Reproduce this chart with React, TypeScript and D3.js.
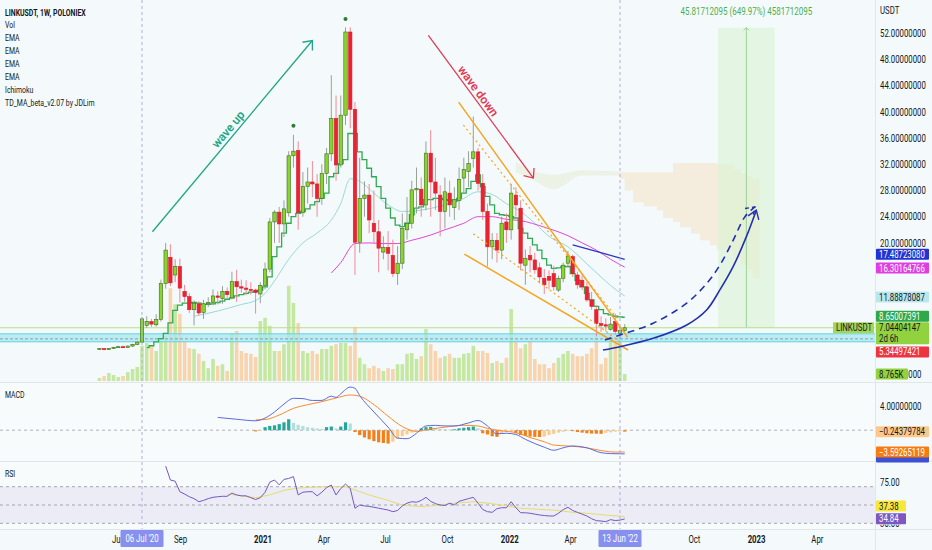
import React from 'react';
import * as d3 from 'd3';

// weekly LINKUSDT candles, first week = 4 May 2020
const opens = [
  3.8, 3.85, 3.7, 3.88, 4.05, 4.15, 4.05, 4.25, 4.5, 4.85,
  7.4, 8.0, 7.5, 8.3, 13.8, 17.8, 15.1, 16.4, 12.6, 11.8,
  9.8, 10.7, 9.4, 10.7, 10.9, 11.9, 11.5, 12.6, 11.6, 14.1,
  13.3, 13.1, 12.9, 12.8, 12.2, 13.5, 16.0, 23.2, 24.7, 22.9,
  24.6, 33.3, 34.1, 24.6, 28.6, 29.3, 29.0, 26.8, 30.6, 33.6,
  39.0, 31.9, 39.5, 52.2, 40.4, 20.1, 26.8, 27.3, 23.0, 21.7,
  18.6, 19.3, 18.1, 15.3, 16.9, 22.0, 23.0, 28.1, 28.2, 25.8,
  33.7, 29.3, 27.3, 24.8, 27.6, 25.4, 26.5, 29.9, 30.9, 32.9,
  33.9, 29.1, 24.8, 19.4, 20.4, 18.9, 23.2, 22.0, 27.3, 25.3,
  16.6, 18.1, 17.4, 16.2, 14.6, 14.9, 15.3, 12.8, 14.6, 16.9,
  17.9, 15.1, 14.3, 13.3, 11.3, 9.8, 7.7, 7.5, 6.8, 8.0,
  6.2, 6.6,
];
const highs = [
  3.95, 3.95, 3.95, 4.15, 4.3, 4.35, 4.35, 4.6, 5.0, 8.7,
  8.8, 8.4, 9.1, 14.4, 20.0, 19.8, 17.5, 17.6, 13.6, 12.3,
  11.2, 11.1, 11.3, 11.7, 12.9, 12.6, 13.4, 13.2, 15.6, 15.9,
  14.4, 14.3, 14.0, 13.0, 14.0, 17.0, 23.8, 25.0, 25.5, 26.5,
  34.0, 36.5, 35.5, 30.8, 31.5, 32.5, 30.5, 32.0, 34.5, 45.6,
  42.5, 42.5, 52.9, 52.9, 41.5, 33.0, 29.4, 29.0, 28.0, 23.5,
  21.0, 21.8, 20.5, 19.5, 24.5, 27.0, 29.5, 31.5, 30.0, 35.5,
  37.2, 33.0, 28.8, 30.0, 29.5, 28.5, 31.5, 33.0, 34.0, 39.3,
  34.5, 30.5, 26.0, 21.5, 21.5, 24.0, 24.5, 29.0, 28.5, 26.5,
  19.0, 19.5, 18.5, 17.0, 16.0, 15.8, 16.5, 15.0, 17.0, 18.8,
  18.2, 15.6, 15.0, 14.0, 12.5, 10.5, 8.8, 8.5, 8.7, 9.2,
  7.2, 7.6,
];
const lows = [
  3.7, 3.6, 3.65, 3.8, 3.95, 3.95, 3.95, 4.1, 4.4, 4.75,
  7.0, 7.2, 7.2, 8.0, 13.0, 13.4, 14.0, 10.9, 11.0, 9.3,
  7.4, 8.9, 8.4, 10.2, 10.5, 10.6, 10.7, 11.5, 11.4, 11.0,
  12.4, 12.0, 12.1, 9.2, 10.8, 12.9, 15.5, 20.0, 20.0, 20.9,
  24.0, 31.5, 22.0, 24.0, 26.0, 27.0, 24.0, 25.8, 29.0, 32.5,
  29.5, 31.5, 38.0, 37.5, 15.1, 18.5, 24.0, 21.5, 20.0, 15.5,
  17.5, 15.8, 14.8, 13.6, 16.0, 20.5, 22.2, 24.5, 24.0, 25.0,
  24.0, 25.0, 21.0, 22.2, 24.0, 23.5, 25.0, 27.5, 28.5, 31.5,
  28.0, 23.5, 16.4, 17.5, 17.0, 17.5, 20.0, 20.5, 24.0, 15.8,
  13.6, 15.5, 15.3, 13.8, 12.2, 12.9, 12.7, 12.5, 14.0, 16.2,
  14.8, 13.0, 12.8, 11.0, 9.8, 5.7, 6.4, 6.5, 6.6, 6.0,
  5.35, 6.3,
];
const closes = [
  3.85, 3.7, 3.88, 4.05, 4.15, 4.05, 4.25, 4.5, 4.85, 8.4,
  8.0, 7.6, 8.3, 13.8, 18.9, 13.9, 16.4, 13.1, 11.8, 9.8,
  10.8, 9.3, 10.7, 10.9, 11.9, 11.7, 12.6, 12.1, 14.1, 13.3,
  13.1, 12.9, 12.8, 12.4, 13.5, 16.0, 23.2, 24.7, 22.9, 25.2,
  33.3, 34.0, 24.6, 28.6, 29.3, 29.0, 26.8, 30.6, 33.6, 39.0,
  31.9, 39.5, 52.2, 40.4, 20.1, 26.8, 27.3, 23.5, 21.7, 19.2,
  19.3, 18.4, 15.3, 16.9, 22.2, 23.0, 28.1, 28.3, 25.8, 33.7,
  29.3, 27.6, 24.8, 27.8, 25.8, 26.6, 29.7, 31.2, 32.1, 33.9,
  29.1, 24.8, 19.4, 20.4, 18.9, 23.0, 22.0, 27.6, 25.8, 16.9,
  17.6, 17.4, 15.9, 14.8, 13.6, 14.3, 13.3, 14.6, 16.6, 18.0,
  15.3, 13.6, 13.3, 11.3, 10.3, 7.7, 7.4, 7.3, 7.6, 6.5,
  6.6, 7.044,
];
// volume in thousands
const volumes = [
  3.8, 6.3, 10, 7.5, 5, 6.3, 11, 15, 17.5, 44,
  47.5, 44, 37.5, 50, 56, 116, 96, 84, 50, 41,
  40, 34, 25, 16, 27.5, 19, 21, 12.5, 60, 62.5,
  37.5, 35, 34, 30, 75, 79, 69, 37.5, 37.5, 46,
  119, 97.5, 72.5, 37.5, 35, 37.5, 34, 40, 40, 44,
  46, 47.5, 47.5, 44, 67.5, 29, 21, 16, 19, 16,
  12.5, 16, 15, 21, 21, 34, 35, 27.5, 31, 65,
  46, 37.5, 29, 31, 34, 29, 29, 34, 35, 44,
  37.5, 37.5, 35, 22.5, 25, 22.5, 29, 90, 50, 41,
  46, 50, 27.5, 21, 21, 16, 22.5, 29, 34, 37.5,
  34, 31, 31, 34, 41, 54, 21, 29, 59, 54,
  60, 8.765,
];

// TD_MA step line, starts at week 10
const stepStart = 10;
const stepLine = [
  4.0, 4.3, 4.9, 5.4, 6.2, 7.8, 9.7, 10.5, 10.8, 10.8,
  10.9, 10.8, 10.6, 10.6, 10.7, 10.9, 11.1, 11.4, 11.6, 11.9,
  12.1, 12.3, 12.5, 12.6, 12.8, 13.3, 14.8, 17.9, 19.4, 21.5,
  23.0, 24.0, 24.5, 24.8, 25.2, 25.8, 26.3, 26.8, 27.6, 30.1,
  30.6, 32.1, 32.7, 36.7, 36.7, 33.9, 32.7, 31.4, 30.1, 28.6,
  26.8, 25.3, 23.8, 22.7, 22.5, 23.0, 24.3, 25.3, 25.5, 26.6,
  26.6, 26.8, 26.8, 26.6, 26.5, 26.4, 26.8, 27.6, 28.3, 29.4,
  30.4, 28.6, 27.1, 25.8, 24.5, 24.3, 24.2, 24.0, 23.8, 22.2,
  21.5, 20.7, 19.7, 18.9, 17.6, 16.6, 16.1, 16.2, 16.4, 16.4,
  15.3, 14.3, 13.3, 12.3, 11.3, 10.3, 9.8, 9.2, 9.0, 8.8,
  8.7, 8.65,
];

// EMAs read as [week, value]
const emaCyan = [
  [20, 8.8], [25, 9.6], [30, 10.6], [33, 11.2], [35, 12.3], [37, 14.2], [40, 17.5],
  [43, 20.0], [46, 21.5], [49, 23.5], [51, 26.0], [53, 29.8], [55, 29.4], [58, 27.6],
  [61, 25.8], [64, 24.8], [68, 25.0], [72, 25.6], [76, 26.4], [80, 27.8], [83, 27.4],
  [86, 26.0], [89, 24.8], [92, 23.0], [95, 21.0], [99, 19.4], [103, 16.8], [106, 14.8],
  [108, 13.5], [111, 11.89],
];
const emaMagenta = [
  [49, 15.4], [51, 17.0], [54, 19.9], [57, 20.0], [60, 19.9], [63, 19.9], [66, 20.4],
  [70, 21.2], [73, 22.0], [77, 23.0], [80, 24.0], [83, 24.0], [86, 23.6], [89, 23.4],
  [94, 22.4], [99, 21.1], [102, 20.0], [105, 18.9], [108, 17.5], [111, 16.3],
];
const emaBlue = [[100, 19.7], [105, 18.7], [108, 18.1], [111, 17.49]];

// Ichimoku cloud (projected 26 weeks)
const cloudFaintWeeks = [88, 91.5, 96, 102, 106, 110];
const cloudFaintTop = [32.4, 31.0, 30.4, 31.1, 31.0, 30.9];
const cloudFaintBottom = [30.8, 29.6, 28.2, 30.3, 30.3, 30.3];
const cloudWeeks = [110, 111, 112.8, 115, 117.8, 119.1, 121.2, 122.7, 125, 126.9, 129, 130.5, 133.9, 135.5, 136.8, 138, 139.5];
const cloudTop = [30.8, 30.8, 30.8, 30.8, 30.8, 30.8, 32.2, 32.2, 32.2, 32.2, 32.2, 32.0, 31.2, 30.6, 30.2, 29.8, 29.5];
const cloudBottom = [29.8, 28.0, 26.2, 25.6, 25.0, 23.8, 23.2, 22.4, 21.4, 20.4, 19.6, 18.9, 17.6, 16.6, 15.9, 14.6, 13.3];

// MACD
const macdLine = [
  [25, 2.1], [29, 1.8], [33, 1.55], [35, 2.0], [37, 3.0], [39, 4.3], [41, 5.25], [43, 5.2],
  [45, 4.9], [47, 4.9], [49, 5.6], [50, 5.4], [51, 6.0], [53, 7.1], [54, 6.9], [55, 5.7],
  [58, 3.0], [61, 0.5], [63, -1.3], [65, -1.4], [67, -0.5], [69, 0.7], [71, 0.8], [73, 0.7],
  [75, 0.7], [78, 1.2], [80, 1.6], [82, 0.7], [84, -0.6], [86, -0.5], [88, -0.7], [90, -1.5],
  [92, -2.2], [94, -2.8], [96, -3.3], [98, -2.9], [100, -2.6], [103, -2.9], [106, -3.7],
  [108, -3.85], [111, -3.9],
];
const macdSignal = [
  [33, 1.7], [35, 1.75], [38, 2.5], [41, 3.6], [44, 4.2], [47, 4.7], [50, 5.3], [53, 5.8],
  [55, 5.6], [58, 4.2], [61, 2.3], [64, 0.6], [67, -0.2], [70, 0.2], [73, 0.5], [77, 0.8],
  [80, 0.7], [82, 0.3], [85, -0.1], [88, -0.4], [91, -1.2], [94, -1.9], [96, -2.45],
  [99, -2.6], [103, -2.9], [106, -3.35], [109, -3.6], [111, -3.59],
];
const histStart = 33;
const macdHist = [
  -0.2, -0.1, 0.5, 0.7, 0.8, 1.0, 1.3, 1.8, 1.2, 0.9,
  0.7, 0.5, 0.4, 0.3, 0.2, 0.5, 0.6, 0.3, 0.6, 1.3,
  1.1, -0.3, -0.8, -1.2, -1.5, -1.8, -2.0, -2.1, -2.2, -1.9,
  -1.4, -1.0, -0.7, -0.4, -0.2, 0.3, 0.5, 0.55, 0.3, 0.2,
  0.15, 0.1, 0.15, 0.3, 0.4, 0.5, 0.6, 0.3, -0.5, -0.7,
  -1.0, -1.1, -0.6, -0.3, -0.2, -0.5, -0.8, -0.95, -1.05, -1.1,
  -1.12, -1.05, -0.8, -0.6, -0.4, -0.25, -0.1, -0.15, -0.3, -0.4,
  -0.5, -0.55, -0.58, -0.6, -0.45, -0.35, -0.25, -0.2, -0.24,
];

// RSI
const rsiLine = [
  [14, 92.5], [15, 77.3], [16, 76], [17, 64.5], [18, 62], [19, 59], [20, 57], [21, 53.6],
  [22, 55], [23, 57], [24, 58.4], [25, 59], [26, 59.5], [27, 59.5], [28, 63], [29, 61],
  [30, 60], [31, 60], [32, 58], [33, 56], [34, 58], [35, 64], [36, 75], [37, 77.3], [38, 72],
  [39, 78], [40, 79], [41, 81], [42, 61], [43, 64], [44, 64.5], [45, 64.5], [46, 60], [47, 64],
  [48, 69], [49, 71.8], [50, 60.9], [51, 68], [52, 72.9], [53, 68], [54, 46.4], [55, 50],
  [56, 49], [57, 48.5], [58, 47.5], [59, 46.5], [60, 45.5], [61, 44.5], [62, 42.7], [63, 44],
  [64, 49], [65, 52], [66, 53.6], [67, 53], [68, 55], [69, 58.4], [70, 54], [71, 51.5],
  [72, 50], [73, 49.5], [74, 52], [75, 50], [76, 54], [77, 55.5], [78, 57], [79, 58.4],
  [80, 52], [81, 45], [82, 42.7], [83, 42], [84, 46], [85, 47], [86, 47], [87, 53.6], [88, 47],
  [89, 41.6], [90, 41.5], [91, 41], [92, 40], [93, 39.1], [94, 38.5], [95, 38], [96, 38],
  [97, 41], [98, 45], [99, 47.5], [100, 44], [101, 42], [102, 40], [103, 38], [104, 35],
  [105, 32.9], [106, 32.5], [107, 31.8], [108, 34], [109, 33], [110, 33.5], [111, 34.84],
];
const rsiMa = [
  [27, 62], [30, 60], [33, 58], [36, 61], [39, 66], [42, 68.5], [45, 69.5], [48, 70], [52, 70],
  [57, 61], [61, 55], [64, 50], [68, 48.2], [72, 50], [75, 52], [79, 53.6], [82, 52], [85, 50],
  [89, 46.4], [92, 45.5], [96, 44.5], [100, 42], [103, 40.9], [107, 39], [111, 37.38],
];

// drawings, as [week, price]
const waveUp = [[11.2, 21.7], [45.0, 50.9]];
const waveDown = [[69.5, 51.7], [91.7, 29.9]];
const wedgeUpper = [[75.9, 41.5], [111.6, 5.6]];
const wedgeLower = [[77.1, 18.3], [111.7, 3.65]];
const dottedUpper = [[76.9, 38.0], [109.4, 8.5]];
const dottedLower = [[79.0, 21.4], [110.4, 4.7]];
const projSolid = [
  [106.4, 3.65], [110, 4.15], [117, 5.43], [124.1, 7.47], [128.3, 9.76], [131.1, 12.82],
  [133.9, 16.37], [136.7, 20.95], [138.8, 25.0],
];
const projDashed = [
  [106.8, 5.17], [110, 5.94], [117, 7.73], [124.1, 10.8], [128.3, 13.8], [131.1, 16.6],
  [133.9, 20.4], [136.4, 24.0], [138.5, 25.5],
];
const measureWeeks = [130.7, 142.7];
const measurePrices = [7.044, 52.86];
const zoneLow = 4.9;
const zoneHigh = 6.12;
const lastPrice = 7.044;
const lowPrice = 5.345;
const tdDots = [[41, 37.9], [52, 54.2]];

const priceTicks = [20, 24, 28, 32, 36, 40, 44, 48, 52];
const timeTicks = [
  ['2020-06-01', 'Jun', false], ['2020-09-01', 'Sep', false], ['2021-01-01', '2021', true],
  ['2021-04-01', 'Apr', false], ['2021-07-01', 'Jul', false], ['2021-10-01', 'Oct', false],
  ['2022-01-01', '2022', true], ['2022-04-01', 'Apr', false], ['2022-10-01', 'Oct', false],
  ['2023-01-01', '2023', true], ['2023-04-01', 'Apr', false],
];
const legend = ['Vol', 'EMA', 'EMA', 'EMA', 'EMA', 'Ichimoku', 'TD_MA_beta_v2.07 by JDLim'];

const WEEK = 7 * 24 * 3600 * 1000;
const T0 = Date.UTC(2020, 4, 4);
const x = d3
  .scaleUtc()
  .domain([new Date(Date.UTC(2020, 6, 6)), new Date(Date.UTC(2022, 5, 13))])
  .range([142, 620]);
const xw = (w: number) => x(new Date(T0 + w * WEEK));
const y = d3.scaleLinear().domain([0, 52]).range([373.9, 33.3]);
const yVol = d3.scaleLinear().domain([0, 130]).range([381, 277]);
const yMacd = d3.scaleLinear().domain([0, 4]).range([430.2, 405.9]);
const yRsi = d3.scaleLinear().domain([30, 70]).range([523.3, 486.7]);

const PAX = 875;
const FONT = 'Roboto, "Open Sans", sans-serif';

const Txt = ({ x, y, children, size = 10, sx = 0.78, anchor = 'start', fill = '#131722', weight = 400 }: any) => (
  <text
    transform={`translate(${x},${y}) scale(${sx},1)`}
    fontSize={size}
    textAnchor={anchor}
    fill={fill}
    fontWeight={weight}
  >
    {children}
  </text>
);

const toPx = (pts: number[][], ys: (v: number) => number) =>
  pts.map(([w, v]) => [xw(w), ys(v)] as [number, number]);

function head(p1: [number, number], p2: [number, number], len = 10, spread = 40) {
  const a = Math.atan2(p1[1] - p2[1], p1[0] - p2[0]);
  const r = (spread * Math.PI) / 180;
  return `M${p2[0] + len * Math.cos(a + r)},${p2[1] + len * Math.sin(a + r)}L${p2[0]},${p2[1]}L${
    p2[0] + len * Math.cos(a - r)
  },${p2[1] + len * Math.sin(a - r)}`;
}

const Badge = ({ cy, text, bg, fg, x0 = PAX + 1, w = 53, h = 11 }: any) => (
  <g>
    <rect x={x0} y={cy - h / 2} width={w} height={h} fill={bg} rx={1} />
    {text ? (
      <Txt x={x0 + 3} y={cy + 3.6} fill={fg}>
        {text}
      </Txt>
    ) : null}
  </g>
);

const App = () => {
  const line = d3.line<[number, number]>();
  const smooth = d3.line<[number, number]>().curve(d3.curveMonotoneX);

  const stepPts = stepLine.map((v, k) => [xw(k + stepStart), y(v)] as [number, number]);
  const stepPath = d3.line<[number, number]>().curve(d3.curveStep)(stepPts);

  const cloudArea = (weeks: number[], top: number[], bot: number[], curve: any) =>
    d3
      .area<number>()
      .curve(curve)
      .x((w) => xw(w))
      .y0((_, k) => y(bot[k]))
      .y1((_, k) => y(top[k]))(weeks);

  const wu = toPx(waveUp, y);
  const wd = toPx(waveDown, y);
  const wuAng = (Math.atan2(wu[1][1] - wu[0][1], wu[1][0] - wu[0][0]) * 180) / Math.PI;
  const wdAng = (Math.atan2(wd[1][1] - wd[0][1], wd[1][0] - wd[0][0]) * 180) / Math.PI;
  const along = (p: [number, number][], t: number, off: number, angDeg: number) => {
    const a = (angDeg * Math.PI) / 180;
    const px = p[0][0] + (p[1][0] - p[0][0]) * t;
    const py = p[0][1] + (p[1][1] - p[0][1]) * t;
    return [px + off * Math.sin(a), py - off * Math.cos(a)];
  };
  const wuText = along(wu, 0.51, 3.5, wuAng);
  const wdText = along(wd, 0.42, 3, wdAng);

  const ps = toPx(projSolid, y);
  const pd = toPx(projDashed, y);

  const mx0 = xw(measureWeeks[0]);
  const mx1 = xw(measureWeeks[1]);
  const mxc = (mx0 + mx1) / 2;
  const my0 = y(measurePrices[0]);
  const my1 = y(measurePrices[1]);

  const histColor = (k: number) => {
    const v = macdHist[k];
    const prev = k > 0 ? macdHist[k - 1] : 0;
    if (v >= 0) return v >= prev ? '#26a69a' : '#b2dfdb';
    return v <= prev ? '#f57f17' : '#fdcb8c';
  };

  return (
    <div style={{ position: 'fixed', left: 0, top: 0, width: 932, height: 550 }}>
      <svg width={932} height={550} style={{ display: 'block', fontFamily: FONT }}>
        <defs>
          <clipPath id="pricePane">
            <rect x={0} y={0} width={PAX} height={382} />
          </clipPath>
          <clipPath id="macdPane">
            <rect x={0} y={383} width={PAX} height={78} />
          </clipPath>
          <clipPath id="rsiPane">
            <rect x={0} y={462} width={932} height={67} />
          </clipPath>
          <clipPath id="zeroLabel">
            <rect x={908} y={360} width={24} height={22} />
          </clipPath>
          <clipPath id="rsiLow">
            <rect x={876} y={524.6} width={56} height={4.4} />
          </clipPath>
        </defs>
        <rect width={932} height={550} fill="#f4fafb" />
        <rect x={0} y={383} width={PAX} height={146} fill="#f7fbfc" />

        {/* price pane */}
        <g clipPath="url(#pricePane)">
          <path
            d={cloudArea(cloudFaintWeeks, cloudFaintTop, cloudFaintBottom, d3.curveMonotoneX) || ''}
            fill="#e8eedc"
            opacity={0.7}
          />
          <path
            d={cloudArea(cloudWeeks, cloudTop, cloudBottom, d3.curveStepAfter) || ''}
            fill="#f4dfc0"
            opacity={0.5}
          />

          <rect x={mx0} y={my1} width={mx1 - mx0} height={my0 - my1} fill="#d8f3d4" opacity={0.6} />
          <line x1={mxc} x2={mxc} y1={my0} y2={my1} stroke="#86c989" strokeWidth={0.8} />
          <path d={head([mxc, my0], [mxc, my1], 4, 45)} fill="none" stroke="#86c989" strokeWidth={0.8} />

          {volumes.map((v, i) => (
            <rect
              key={i}
              x={xw(i) - 1.8}
              y={yVol(v)}
              width={3.6}
              height={yVol(0) - yVol(v)}
              fill={closes[i] >= opens[i] ? '#c4e8a2' : '#f8d4ae'}
            />
          ))}

          <rect x={0} y={y(zoneHigh)} width={PAX} height={y(zoneLow) - y(zoneHigh)} fill="#a9e7f0" opacity={0.75} />
          <line x1={0} x2={PAX} y1={y(zoneHigh)} y2={y(zoneHigh)} stroke="#5fd3e3" strokeWidth={1} />
          <line x1={0} x2={PAX} y1={y(zoneLow)} y2={y(zoneLow)} stroke="#5fd3e3" strokeWidth={1} />
          <line x1={0} x2={PAX} y1={y(lowPrice)} y2={y(lowPrice)} stroke="#7a8a93" strokeWidth={0.8} strokeDasharray="3,2" />
          <line x1={0} x2={PAX} y1={y(lastPrice)} y2={y(lastPrice)} stroke="#b7df86" strokeWidth={1} />

          <path d={smooth(toPx(emaCyan, y)) || ''} fill="none" stroke="#9ad8d6" strokeWidth={1} />
          <path d={smooth(toPx(emaMagenta, y)) || ''} fill="none" stroke="#e346d8" strokeWidth={1} />
          <path d={smooth(toPx(emaBlue, y)) || ''} fill="none" stroke="#2b36c9" strokeWidth={1.3} />
          <path d={stepPath || ''} fill="none" stroke="#2faa52" strokeWidth={1.3} />

          {closes.map((c, i) => {
            const o = opens[i];
            const up = c >= o;
            const cx = xw(i);
            const top = y(Math.max(o, c));
            const bh = Math.max(1, y(Math.min(o, c)) - top);
            return (
              <g key={i}>
                <line x1={cx} x2={cx} y1={y(highs[i])} y2={y(lows[i])} stroke={up ? '#8d968a' : '#f07d8a'} strokeWidth={0.9} />
                <rect
                  x={cx - 1.7}
                  y={top}
                  width={3.4}
                  height={bh}
                  fill={up ? '#8ad431' : '#ee2130'}
                  stroke={up ? '#3a6d1c' : '#d81b2a'}
                  strokeWidth={0.6}
                />
              </g>
            );
          })}

          {tdDots.map(([w, v], k) => (
            <circle key={k} cx={xw(w)} cy={y(v)} r={2} fill="#2e7d32" />
          ))}

          {/* falling wedge */}
          <path d={line(toPx(wedgeUpper, y)) || ''} stroke="#f5a623" strokeWidth={1.5} fill="none" />
          <path d={line(toPx(wedgeLower, y)) || ''} stroke="#f5a623" strokeWidth={1.5} fill="none" />
          <path d={line(toPx(dottedUpper, y)) || ''} stroke="#f5a623" strokeWidth={1.2} strokeDasharray="2,3" fill="none" />
          <path d={line(toPx(dottedLower, y)) || ''} stroke="#f5a623" strokeWidth={1.2} strokeDasharray="2,3" fill="none" />

          {/* waves */}
          <path d={line(wu) || ''} stroke="#1fa683" strokeWidth={1.3} fill="none" />
          <path d={head(wu[0], wu[1], 10, 40)} stroke="#1fa683" strokeWidth={1.3} fill="none" />
          <text
            transform={`translate(${wuText[0]},${wuText[1]}) rotate(${wuAng})`}
            fontSize={12}
            fontWeight={600}
            fill="#1fa683"
            textAnchor="middle"
          >
            wave up
          </text>
          <path d={line(wd) || ''} stroke="#e23a55" strokeWidth={1.3} fill="none" />
          <path d={head(wd[0], wd[1], 10, 40)} stroke="#e23a55" strokeWidth={1.3} fill="none" />
          <text
            transform={`translate(${wdText[0]},${wdText[1]}) rotate(${wdAng})`}
            fontSize={12}
            fontWeight={600}
            fill="#e23a55"
            textAnchor="middle"
          >
            wave down
          </text>

          {/* projection */}
          <path d={d3.line().curve(d3.curveCatmullRom)(ps) || ''} stroke="#2330b0" strokeWidth={1.6} fill="none" />
          <path d={head(ps[ps.length - 2], ps[ps.length - 1], 10, 35)} stroke="#2330b0" strokeWidth={1.4} fill="none" />
          <path
            d={d3.line().curve(d3.curveCatmullRom)(pd) || ''}
            stroke="#2330b0"
            strokeWidth={1.6}
            strokeDasharray="7,5"
            fill="none"
          />
          <path d={head(pd[pd.length - 2], pd[pd.length - 1], 10, 35)} stroke="#2330b0" strokeWidth={1.4} strokeDasharray="4,3" fill="none" />
        </g>

        {/* MACD pane */}
        <g clipPath="url(#macdPane)">
          <line x1={0} x2={PAX} y1={yMacd(0)} y2={yMacd(0)} stroke="#9aa0a8" strokeDasharray="3,3" strokeWidth={0.8} />
          {macdHist.map((v, k) => {
            const w = k + histStart;
            return (
              <rect
                key={k}
                x={xw(w) - 1.6}
                y={Math.min(yMacd(v), yMacd(0))}
                width={3.2}
                height={Math.abs(yMacd(v) - yMacd(0))}
                fill={histColor(k)}
              />
            );
          })}
          <path d={smooth(toPx(macdSignal, yMacd)) || ''} fill="none" stroke="#ff8a2b" strokeWidth={1} />
          <path d={smooth(toPx(macdLine, yMacd)) || ''} fill="none" stroke="#5b6bdc" strokeWidth={1} />
        </g>

        {/* RSI pane */}
        <g clipPath="url(#rsiPane)">
          <rect x={0} y={yRsi(70)} width={PAX} height={yRsi(30) - yRsi(70)} fill="#7e57c2" opacity={0.09} />
          {[70, 50, 30].map((v) => (
            <line key={v} x1={0} x2={PAX} y1={yRsi(v)} y2={yRsi(v)} stroke="#8f939c" strokeDasharray="3,3" strokeWidth={0.8} />
          ))}
          <path d={line(toPx(rsiMa, yRsi)) || ''} fill="none" stroke="#e8dc6a" strokeWidth={1} />
          <path d={line(toPx(rsiLine, yRsi)) || ''} fill="none" stroke="#7558c4" strokeWidth={1} />
        </g>

        {/* crosshair verticals */}
        {[9, 110].map((w) => (
          <line key={w} x1={xw(w)} x2={xw(w)} y1={0} y2={529} stroke="#aab0da" strokeDasharray="3,3" strokeWidth={1} />
        ))}

        {/* separators */}
        <line x1={0} x2={932} y1={382.5} y2={382.5} stroke="#e1e6ea" />
        <line x1={0} x2={932} y1={461.5} y2={461.5} stroke="#e1e6ea" />
        <line x1={0} x2={932} y1={529.5} y2={529.5} stroke="#e1e6ea" />
        <line x1={PAX + 0.5} x2={PAX + 0.5} y1={0} y2={550} stroke="#e1e6ea" />

        {/* legend */}
        <Txt x={5} y={15.5} size={9.5} sx={0.73} weight={700}>
          LINKUSDT, 1W, POLONIEX
        </Txt>
        {legend.map((s, k) => (
          <Txt key={k} x={5} y={28.4 + k * 12.9} size={9.5} sx={0.73}>
            {s}
          </Txt>
        ))}
        <Txt x={5} y={398} size={9.5} sx={0.73}>MACD</Txt>
        <Txt x={5} y={477} size={9.5} sx={0.73}>RSI</Txt>

        {/* measure label */}
        <Txt x={mxc} y={15} anchor="middle" fill="#4caf50" sx={0.8}>
          45.81712095 (649.97%) 4581712095
        </Txt>

        {/* price axis */}
        <Txt x={PAX + 5} y={13.5}>USDT</Txt>
        {priceTicks.map((v) => (
          <Txt key={v} x={PAX + 5} y={y(v) + 3.6}>
            {v.toFixed(8)}
          </Txt>
        ))}
        <g clipPath="url(#zeroLabel)">
          <Txt x={PAX + 5} y={y(0) + 3.6}>
            0.00000000
          </Txt>
        </g>
        <Badge cy={y(17.4872308) - 5} text="17.48723080" bg="#2233d3" fg="#ffffff" />
        <Badge cy={y(16.30164766) + 1} text="16.30164766" bg="#e03ee2" fg="#ffffff" />
        <Badge cy={y(11.88878087) + 1} text="11.88878087" bg="#b9e7ee" fg="#131722" />
        <Badge cy={y(8.65007391) - 1} text="8.65007391" bg="#2ea84b" fg="#ffffff" />
        <rect x={PAX + 1} y={y(lastPrice) - 5.5} width={53} height={22} fill="#93d23f" rx={1} />
        <Txt x={PAX + 4} y={y(lastPrice) + 3.6}>7.04404147</Txt>
        <Txt x={PAX + 4} y={y(lastPrice) + 14.4}>2d 6h</Txt>
        <rect x={833} y={y(lastPrice) - 5.5} width={41} height={11} fill="#a4d65a" rx={1} />
        <Txt x={836} y={y(lastPrice) + 3.6}>LINKUSDT</Txt>
        <Badge cy={y(lowPrice) + 13} text="5.34497421" bg="#ef3441" fg="#ffffff" />
        <rect x={PAX + 1} y={yVol(8.765) - 5.5} width={32} height={11} fill="#93d23f" rx={1} />
        <Txt x={PAX + 4} y={yVol(8.765) + 3.6}>8.765K</Txt>

        {/* MACD axis */}
        <Txt x={PAX + 5} y={yMacd(4) + 3.6}>4.00000000</Txt>
        <Badge cy={yMacd(-3.9) + 3} text="" bg="#3d4fd6" fg="#ffffff" />
        <Badge cy={yMacd(-0.24379784)} text="−0.24379784" bg="#fdc98a" fg="#131722" />
        <Badge cy={yMacd(-3.59265119)} text="−3.59265119" bg="#f57c12" fg="#ffffff" />

        {/* RSI axis */}
        <Txt x={PAX + 5} y={yRsi(75) + 3.6}>75.00</Txt>
        <g clipPath="url(#rsiLow)">
          <Txt x={PAX + 5} y={yRsi(30) + 3.6}>
            30.00
          </Txt>
        </g>
        <Badge cy={yRsi(34.84)} text="34.84" bg="#7e57c2" fg="#ffffff" w={30} />
        <Badge cy={yRsi(37.38) - 10.6} text="37.38" bg="#f6e73a" fg="#131722" w={30} />

        {/* time axis */}
        {timeTicks.map(([d, label, bold]: any) => (
          <Txt key={d} x={x(new Date(d))} y={543} anchor="middle" weight={bold ? 700 : 400}>
            {label}
          </Txt>
        ))}
        {[
          [9, "06 Jul '20"],
          [110, "13 Jun '22"],
        ].map(([w, s]: any) => (
          <g key={w}>
            <rect x={xw(w) - 21.5} y={530} width={43} height={17} fill="#8790ef" rx={1} />
            <Txt x={xw(w)} y={541.5} anchor="middle" fill="#ffffff">
              {s}
            </Txt>
          </g>
        ))}
      </svg>
    </div>
  );
};

export default App;
